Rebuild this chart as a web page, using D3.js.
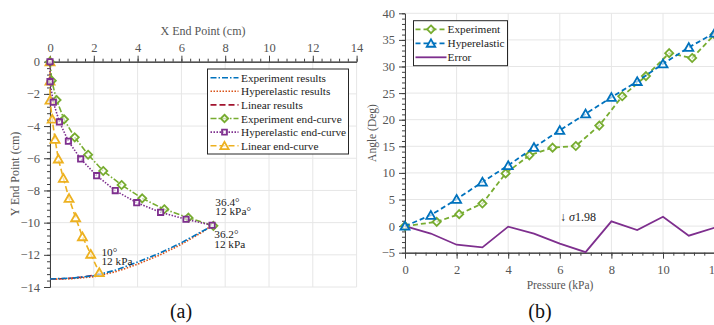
<!DOCTYPE html>
<html>
<head>
<meta charset="utf-8">
<script src="https://cdn.jsdelivr.net/npm/d3@7"></script>
<style>
  body { margin: 0; background: #fff; }
  svg { display: block; font-family: "Liberation Serif", "Times New Roman", serif; }
</style>
</head>
<body>
<div id="chart"></div>
<script>
// ---------- panel (a): end point trajectories ----------
const xEndTicks = [0, 2, 4, 6, 8, 10, 12, 14];
const yEndTicks = [0, -2, -4, -6, -8, -10, -12, -14];

const expResX = [0, 1, 2, 3, 4, 5, 6, 7, 7.45];
const expResY = [-13.5, -13.45, -13.3, -12.95, -12.45, -11.9, -11.25, -10.5, -10.2];
const hypResX = [0, 1, 2, 3, 4, 5, 6, 7, 7.4];
const hypResY = [-13.52, -13.48, -13.36, -13.05, -12.58, -12.02, -11.35, -10.55, -10.16];
const linResX = [0, 0.5, 1, 1.5, 2.25];
const linResY = [-13.5, -13.49, -13.45, -13.38, -13.2];

const expEndX = [0, 0.08, 0.3, 0.64, 1.13, 1.74, 2.43, 3.27, 4.21, 5.22, 6.32, 7.46];
const expEndY = [0, -1.18, -2.38, -3.58, -4.7, -5.78, -6.79, -7.66, -8.49, -9.17, -9.69, -10.2];
const hypEndX = [0, 0, 0.15, 0.43, 0.84, 1.4, 2.13, 2.98, 3.96, 5.05, 6.21, 7.4];
const hypEndY = [0, -1.24, -2.52, -3.74, -4.94, -6.04, -7.08, -8.01, -8.76, -9.36, -9.79, -10.16];
const linEndX = [0, 0, 0, 0.1, 0.23, 0.38, 0.61, 0.87, 1.17, 1.48, 1.86, 2.25];
const linEndY = [0, -1.2, -2.38, -3.56, -4.82, -6.04, -7.24, -8.49, -9.69, -10.87, -11.96, -13.1];

const legendA = ["Experiment results", "Hyperelastic results", "Linear results",
                 "Experiment end-curve", "Hyperelastic end-curve", "Linear end-curve"];

// ---------- panel (b): angle vs pressure ----------
const pressureTicks = [0, 2, 4, 6, 8, 10, 12];
const angleTicks = [-5, 0, 5, 10, 15, 20, 25, 30, 35, 40];

const pressureExp = [0, 1.23, 2.1, 3.0, 3.9, 4.82, 5.72, 6.62, 7.53, 8.42, 9.34, 10.24, 11.13, 12.0];
const angleExp = [0, 0.8, 2.25, 4.25, 9.9, 13.3, 14.75, 15.05, 18.9, 24.4, 28.2, 32.5, 31.6, 36.0];
const pressureHyp = [0, 1, 2, 3, 4, 5, 6, 7, 8, 9, 10, 11, 12];
const angleHyp = [0, 2.05, 5.05, 8.3, 11.4, 14.8, 18.0, 21.1, 24.2, 27.2, 30.5, 33.6, 36.3];
const pressureErr = [0, 1, 2, 3, 4, 5, 6, 7, 8, 9, 10, 11, 12];
const errorVals = [0, -1.4, -3.5, -4.0, -0.1, -1.4, -3.3, -4.9, 0.9, -0.75, 1.75, -1.8, -0.3];

const legendB = ["Experiment", "Hyperelastic", "Error"];

const C = {
  blue: "#0072BD", orange: "#D95319", yellow: "#EDB120",
  purple: "#7E2F8E", green: "#77AC30", red: "#A2142F",
  grid: "#e6e6e6", axis: "#404040", text: "#555"
};

const W = 714, H = 325;
const svg = d3.select("#chart").append("svg").attr("width", W).attr("height", H);
svg.append("rect").attr("width", W).attr("height", H).attr("fill", "#fff");

function range(a, b, step) {
  const out = [];
  for (let v = a; v <= b + 1e-9; v += step) out.push(+v.toFixed(4));
  return out;
}

const SIZES = { diamond: 42, square: 36, triangle: 58 };

function marker(g, shape, x, y, color, scale) {
  const sym = shape === "diamond" ? d3.symbolDiamond2 : shape === "square" ? d3.symbolSquare2 : d3.symbolTriangle2;
  g.append("path")
    .attr("d", d3.symbol().type(sym).size(SIZES[shape] * (scale || 1))())
    .attr("transform", `translate(${x},${y + (shape === "triangle" ? 1 : 0)})`)
    .attr("fill", "#fff").attr("fill-opacity", 0.6)
    .attr("stroke", color).attr("stroke-width", 1.8);
}

function series(g, xs, ys, sx, sy, color, dash, width, shape) {
  const pts = xs.map((v, i) => [sx(v), sy(ys[i])]);
  g.append("path")
    .attr("d", d3.line()(pts))
    .attr("fill", "none").attr("stroke", color)
    .attr("stroke-width", width).attr("stroke-dasharray", dash);
  if (shape) pts.forEach(p => marker(g, shape, p[0], p[1], color));
}

const DASHDOT = "6,2,1.5,2", DOTTED = "1.5,1.5", DASHED = "6,3";

function styleAxis(sel) {
  sel.selectAll("path, line").attr("stroke", C.axis);
  sel.selectAll("text").attr("fill", C.text).attr("font-size", 12.5)
    .attr("font-family", "Liberation Serif");
}

// ================= panel (a) =================
const xa = d3.scaleLinear().domain([0, 14]).range([50, 356.6]);
const ya = d3.scaleLinear().domain([-14, 0]).range([287, 61.7]);
const ga = svg.append("g");

ga.append("g").selectAll("line").data(xEndTicks).enter().append("line")
  .attr("x1", d => xa(d)).attr("x2", d => xa(d)).attr("y1", ya(0)).attr("y2", ya(-14))
  .attr("stroke", C.grid);
ga.append("g").selectAll("line").data(yEndTicks).enter().append("line")
  .attr("y1", d => ya(d)).attr("y2", d => ya(d)).attr("x1", xa(0)).attr("x2", xa(14))
  .attr("stroke", C.grid);

// axes on top and left
ga.append("g").attr("transform", `translate(0,${ya(0)})`)
  .call(d3.axisTop(xa).tickValues(range(0, 14, 0.4)).tickSize(3).tickFormat("").tickSizeOuter(0))
  .call(styleAxis);
ga.append("g").attr("transform", `translate(0,${ya(0)})`)
  .call(d3.axisTop(xa).tickValues(xEndTicks).tickSize(6).tickSizeOuter(0).tickPadding(4))
  .call(styleAxis);
ga.append("g").attr("transform", `translate(${xa(0)},0)`)
  .call(d3.axisLeft(ya).tickValues(range(-14, 0, 0.4)).tickSize(3).tickFormat("").tickSizeOuter(0))
  .call(styleAxis);
ga.append("g").attr("transform", `translate(${xa(0)},0)`)
  .call(d3.axisLeft(ya).tickValues(yEndTicks).tickSize(6).tickSizeOuter(0).tickPadding(4))
  .call(styleAxis);

ga.append("text").attr("x", 203).attr("y", 35).attr("text-anchor", "middle")
  .attr("font-size", 12).attr("fill", C.text).text("X End Point (cm)");
ga.append("text").attr("transform", "translate(19,174) rotate(-90)").attr("text-anchor", "middle")
  .attr("font-size", 12).attr("fill", C.text).text("Y End Point (cm)");

const pa = ga.append("g");
series(pa, linResX, linResY, xa, ya, C.red, DASHED, 1.6);
series(pa, hypResX, hypResY, xa, ya, C.orange, DOTTED, 1.6);
series(pa, expResX, expResY, xa, ya, C.blue, DASHDOT, 1.6);
series(pa, linEndX, linEndY, xa, ya, C.yellow, DASHED, 1.6, "triangle");
series(pa, expEndX, expEndY, xa, ya, C.green, DASHDOT, 1.6, "diamond");
series(pa, hypEndX, hypEndY, xa, ya, C.purple, DOTTED, 1.6, "square");

// annotations
const ann = [
  [xa(7.55), ya(-8.95), "36.4°"], [xa(7.55), ya(-9.55), "12 kPa°"],
  [xa(7.5), ya(-10.95), "36.2°"], [xa(7.5), ya(-11.55), "12 kPa"],
  [xa(2.35), ya(-12.05), "10°"], [xa(2.35), ya(-12.65), "12 kPa"]
];
ga.append("g").selectAll("text").data(ann).enter().append("text")
  .attr("x", d => d[0]).attr("y", d => d[1]).attr("font-size", 11.3).attr("fill", "#222")
  .text(d => d[2]);

// legend (a)
const la = ga.append("g").attr("transform", "translate(207.5,69)");
la.append("rect").attr("width", 141).attr("height", 85).attr("fill", "#fff")
  .attr("stroke", "#262626").attr("stroke-width", 1);
const legStyleA = [
  [C.blue, DASHDOT, null], [C.orange, DOTTED, null], [C.red, DASHED, null],
  [C.green, DASHDOT, "diamond"], [C.purple, DOTTED, "square"], [C.yellow, DASHED, "triangle"]
];
legendA.forEach((name, i) => {
  const y = 8.7 + i * 13.6;
  const [col, dash, shape] = legStyleA[i];
  la.append("line").attr("x1", 3).attr("x2", 31).attr("y1", y).attr("y2", y)
    .attr("stroke", col).attr("stroke-width", 1.6).attr("stroke-dasharray", dash);
  if (shape) marker(la, shape, 17, y, col, 0.85);
  la.append("text").attr("x", 33.5).attr("y", y + 4).attr("font-size", 11.3).attr("fill", "#222").text(name);
});

ga.append("text").attr("x", 181).attr("y", 318).attr("text-anchor", "middle")
  .attr("font-size", 20).attr("fill", "#111").text("(a)");

// ================= panel (b) =================
const xb = d3.scaleLinear().domain([0, 12]).range([405, 714.6]);
const yb = d3.scaleLinear().domain([-5, 40]).range([252.7, 13.3]);
const gb = svg.append("g");

gb.append("g").selectAll("line").data(pressureTicks).enter().append("line")
  .attr("x1", d => xb(d)).attr("x2", d => xb(d)).attr("y1", yb(40)).attr("y2", yb(-5))
  .attr("stroke", C.grid);
gb.append("g").selectAll("line").data(angleTicks).enter().append("line")
  .attr("y1", d => yb(d)).attr("y2", d => yb(d)).attr("x1", xb(0)).attr("x2", xb(12))
  .attr("stroke", C.grid);

gb.append("g").attr("transform", `translate(0,${yb(-5)})`)
  .call(d3.axisBottom(xb).tickValues(range(0, 12, 0.4)).tickSize(3).tickFormat("").tickSizeOuter(0))
  .call(styleAxis);
gb.append("g").attr("transform", `translate(0,${yb(-5)})`)
  .call(d3.axisBottom(xb).tickValues(pressureTicks).tickSize(6).tickSizeOuter(0).tickPadding(6))
  .call(styleAxis);
gb.append("g").attr("transform", `translate(${xb(0)},0)`)
  .call(d3.axisLeft(yb).tickValues(range(-5, 40, 1)).tickSize(3).tickFormat("").tickSizeOuter(0))
  .call(styleAxis);
gb.append("g").attr("transform", `translate(${xb(0)},0)`)
  .call(d3.axisLeft(yb).tickValues(angleTicks).tickSize(6).tickSizeOuter(0).tickPadding(4))
  .call(styleAxis);

gb.append("text").attr("x", 560).attr("y", 289).attr("text-anchor", "middle")
  .attr("font-size", 11.5).attr("fill", C.text).text("Pressure (kPa)");
gb.append("text").attr("transform", "translate(376,133) rotate(-90)").attr("text-anchor", "middle")
  .attr("font-size", 11.5).attr("fill", C.text).text("Angle (Deg)");

const pb = gb.append("g");
series(pb, pressureErr, errorVals, xb, yb, C.purple, null, 1.8);
series(pb, pressureExp, angleExp, xb, yb, C.green, "5,3", 1.8, "diamond");
series(pb, pressureHyp, angleHyp, xb, yb, C.blue, "5,3", 1.8, "triangle");

const sig = gb.append("text").attr("x", 560).attr("y", 221).attr("font-size", 12).attr("fill", "#222");
sig.append("tspan").text("↓ ");
sig.append("tspan").attr("font-style", "italic").text("σ");
sig.append("tspan").text("1.98");

// legend (b)
const lb = gb.append("g").attr("transform", "translate(413.5,20.7)");
lb.append("rect").attr("width", 94).attr("height", 45).attr("fill", "#fff")
  .attr("stroke", "#262626").attr("stroke-width", 1);
const legStyleB = [[C.green, "5,3", "diamond"], [C.blue, "5,3", "triangle"], [C.purple, null, null]];
legendB.forEach((name, i) => {
  const y = 8.6 + i * 14;
  const [col, dash, shape] = legStyleB[i];
  lb.append("line").attr("x1", 2).attr("x2", 33).attr("y1", y).attr("y2", y)
    .attr("stroke", col).attr("stroke-width", 1.8).attr("stroke-dasharray", dash);
  if (shape) marker(lb, shape, 17.5, y, col, 0.9);
  lb.append("text").attr("x", 34).attr("y", y + 4).attr("font-size", 11.3).attr("fill", "#222").text(name);
});

gb.append("text").attr("x", 540).attr("y", 318).attr("text-anchor", "middle")
  .attr("font-size", 20).attr("fill", "#111").text("(b)");
</script>
</body>
</html>
